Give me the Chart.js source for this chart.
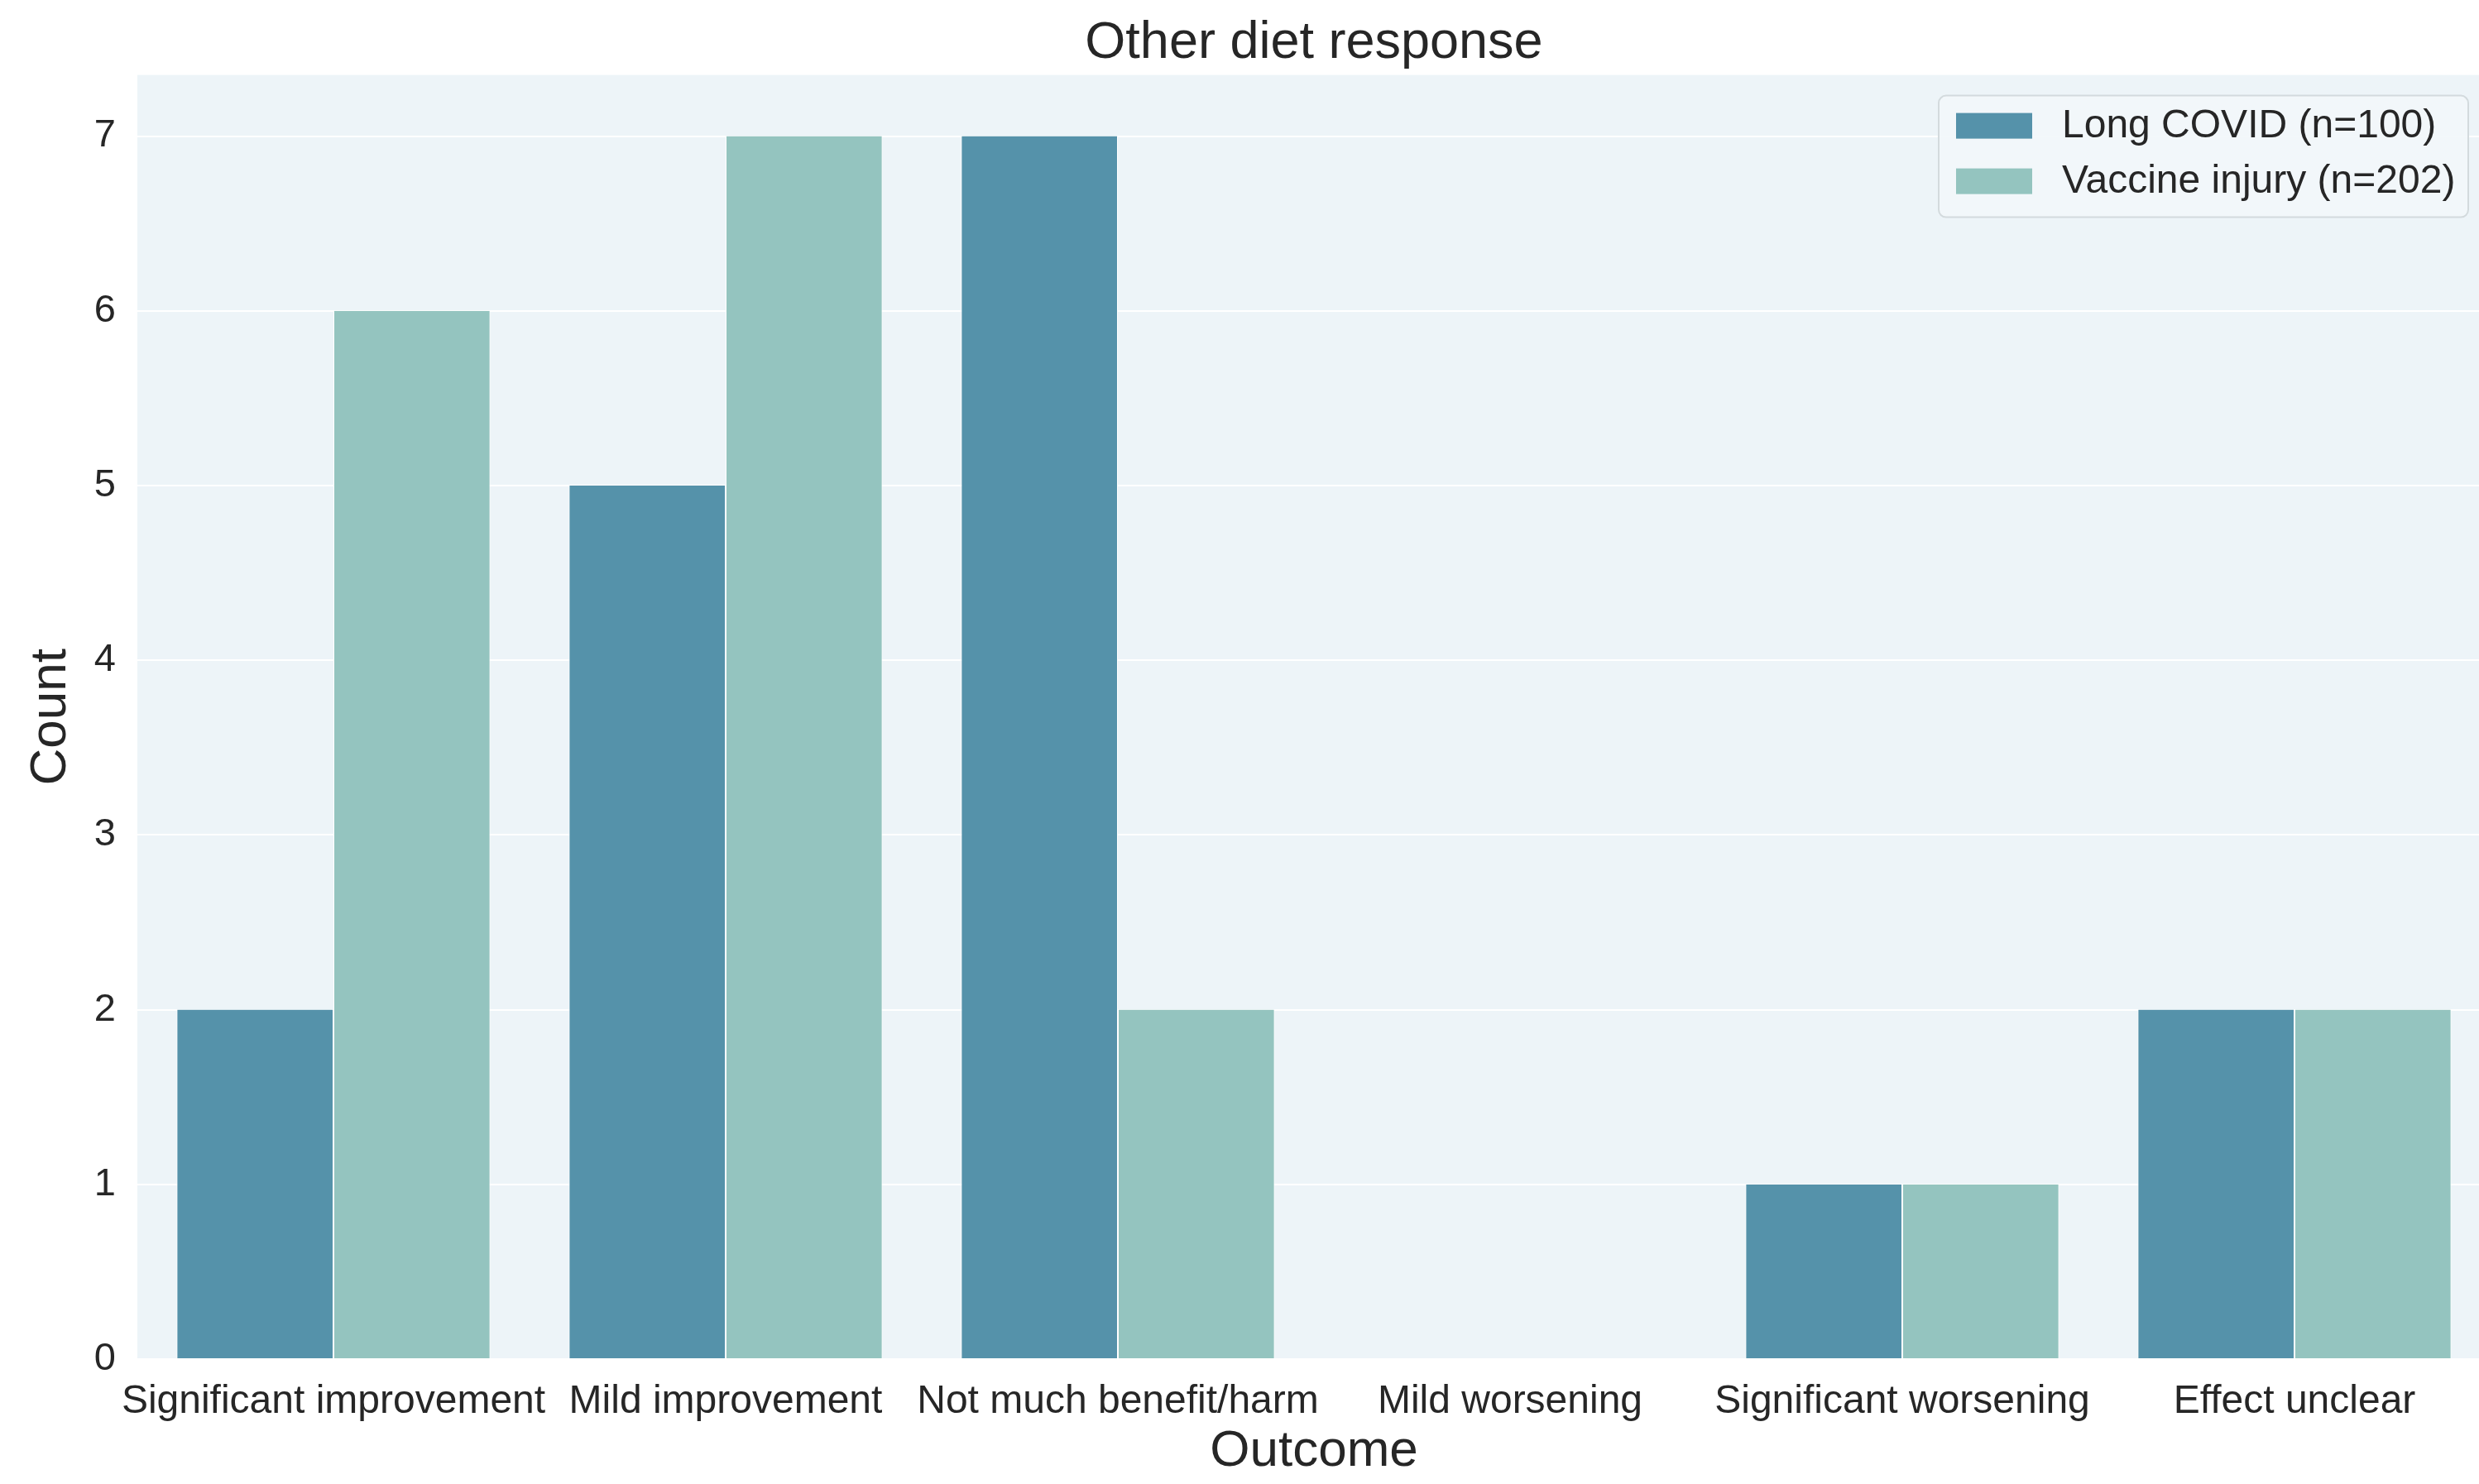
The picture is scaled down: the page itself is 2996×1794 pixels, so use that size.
<!DOCTYPE html>
<html>
<head>
<meta charset="utf-8">
<title>Other diet response</title>
<script src="https://cdn.jsdelivr.net/npm/chart.js@4.4.1/dist/chart.umd.min.js"></script>
<style>
  html, body { margin: 0; padding: 0; background: #ffffff; overflow: hidden; }
  #wrap { width: 3010px; height: 1794px; }
</style>
</head>
<body>
<div id="wrap"><canvas id="chart" width="3010" height="1794"></canvas></div>
<script>
// Outcome categories on the x axis
const outcomes = [
  'Significant improvement',
  'Mild improvement',
  'Not much benefit/harm',
  'Mild worsening',
  'Significant worsening',
  'Effect unclear'
];
// Respondent counts per outcome
const longCovidCounts = [2, 5, 7, 0, 1, 2];
const vaccineInjuryCounts = [6, 7, 2, 0, 1, 2];
// Series names
const seriesNames = ['Long COVID (n=100)', 'Vaccine injury (n=202)'];
// Y tick values
const countTicks = [0, 1, 2, 3, 4, 5, 6, 7];

const FONT = '"Liberation Sans", Arial, "DejaVu Sans", sans-serif';
const TEXT = '#262626';
const COLORS = ['#5592aa', '#94c4bf'];

// Light plot-area background behind the bars
const plotBackground = {
  id: 'plotBackground',
  beforeDraw(chart) {
    const { ctx, chartArea: a } = chart;
    ctx.save();
    ctx.fillStyle = '#edf4f8';
    ctx.fillRect(a.left, a.top, a.right - a.left, a.bottom - a.top);
    ctx.restore();
  }
};

// Framed legend in the top-right corner of the plot
const cornerLegend = {
  id: 'cornerLegend',
  afterDatasetsDraw(chart) {
    const { ctx, chartArea: a } = chart;
    const w = 640, h = 147;
    const x = a.right - 27 - w, y = a.top + 25;
    ctx.save();
    ctx.beginPath();
    ctx.roundRect(x, y, w, h, 9);
    ctx.fillStyle = 'rgba(242,247,250,0.9)';
    ctx.fill();
    ctx.lineWidth = 2;
    ctx.strokeStyle = '#d3dadd';
    ctx.stroke();
    ctx.font = '48px ' + FONT;
    ctx.textBaseline = 'middle';
    ctx.textAlign = 'left';
    chart.data.datasets.forEach((ds, i) => {
      const cy = y + 36 + i * 67;
      ctx.fillStyle = ds.backgroundColor;
      ctx.fillRect(x + 21, cy - 15, 92, 31);
      ctx.fillStyle = TEXT;
      ctx.fillText(ds.label, x + 149, cy + 1);
    });
    ctx.restore();
  }
};

new Chart(document.getElementById('chart'), {
  type: 'bar',
  data: {
    labels: outcomes,
    datasets: [
      { label: seriesNames[0], data: longCovidCounts, backgroundColor: COLORS[0] },
      { label: seriesNames[1], data: vaccineInjuryCounts, backgroundColor: COLORS[1] }
    ]
  },
  options: {
    responsive: false,
    animation: false,
    devicePixelRatio: 1,
    layout: { padding: { left: 0, right: 0, top: 0, bottom: 0 } },
    datasets: {
      bar: {
        categoryPercentage: 0.8,
        barPercentage: 1.0,
        borderColor: '#ffffff',
        borderWidth: { left: 1, right: 1, top: 0, bottom: 0 },
        borderSkipped: false
      }
    },
    plugins: {
      legend: { display: false },
      tooltip: { enabled: false },
      title: {
        display: true,
        fullSize: false,
        text: 'Other diet response',
        color: TEXT,
        font: { family: FONT, size: 63, weight: 'normal', lineHeight: 1.2 },
        padding: { top: 15, bottom: 0 }
      }
    },
    scales: {
      x: {
        offset: true,
        grid: { display: false, drawTicks: false },
        border: { display: false },
        ticks: {
          color: TEXT,
          font: { family: FONT, size: 48 },
          padding: 23,
          maxRotation: 0,
          autoSkip: false
        },
        title: {
          display: true,
          text: 'Outcome',
          color: TEXT,
          font: { family: FONT, size: 62, lineHeight: 1.2 },
          padding: { top: 2, bottom: 2 }
        },
        afterFit(scale) { scale.height = 151; }
      },
      y: {
        min: 0,
        max: 7.35,
        grid: { color: '#ffffff', lineWidth: 2, drawTicks: false },
        border: { display: false },
        ticks: {
          stepSize: 1,
          includeBounds: false,
          color: TEXT,
          font: { family: FONT, size: 47 },
          padding: 26
        },
        afterBuildTicks(scale) {
          scale.ticks = countTicks.map(v => ({ value: v }));
        },
        title: {
          display: true,
          text: 'Count',
          color: TEXT,
          font: { family: FONT, size: 62, lineHeight: 1.2 },
          padding: { top: 25, bottom: 25 }
        },
        afterFit(scale) { scale.width = 166; }
      }
    }
  },
  plugins: [plotBackground, cornerLegend]
});
</script>
</body>
</html>
